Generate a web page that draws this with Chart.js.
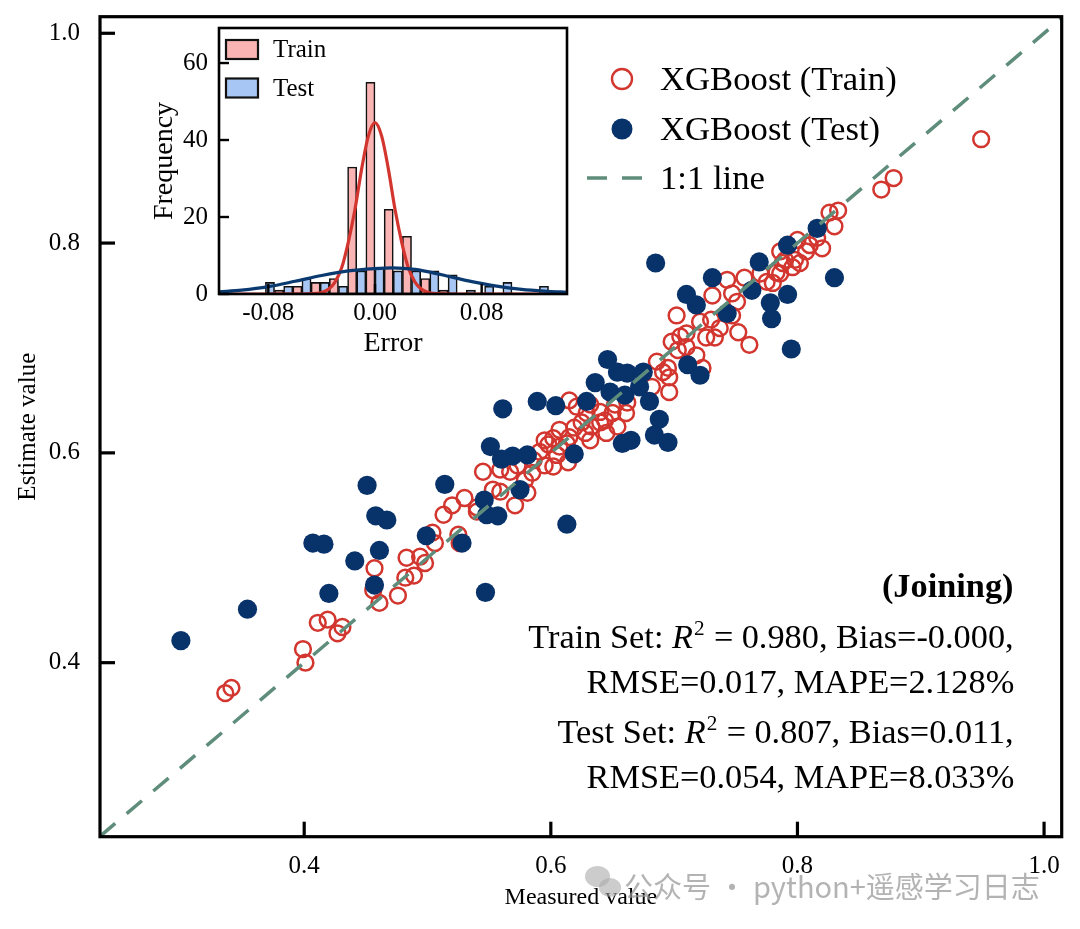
<!DOCTYPE html>
<html>
<head>
<meta charset="utf-8">
<script src="https://cdn.jsdelivr.net/npm/chart.js@4.4.1/dist/chart.umd.min.js"></script>
<style>
html,body{margin:0;padding:0;background:#fff;}
#wrap{position:relative;width:1080px;height:929px;overflow:hidden;background:#fff;}
#main{position:absolute;left:0;top:0;}
#inset{position:absolute;left:130px;top:20px;}
.txt{position:absolute;font-family:'Liberation Serif','Times New Roman',serif;color:#000;white-space:nowrap;}
.leg{font-size:34px;line-height:40px;transform:scaleX(1.02);transform-origin:left center;}
.ileg{font-size:25px;line-height:30px;}
.stat{right:66px;font-size:33px;line-height:40px;text-align:right;transform:scaleX(1.04);transform-origin:right center;}
.stat sup{font-size:0.62em;line-height:0;vertical-align:0.62em;margin-left:1px;}
.stat .eq{margin:0 8px 0 9px;}
.wm{position:absolute;left:624px;top:865px;font-family:'Noto Sans CJK SC','Noto Sans',sans-serif;font-size:29px;line-height:40px;color:rgba(150,150,150,0.72);white-space:nowrap;}
.bub{position:absolute;border-radius:50%;background:rgba(170,170,170,0.6);}
</style>
</head>
<body>
<div id="wrap">
  <canvas id="main" width="1080" height="929"></canvas>
  <canvas id="inset" width="460" height="350"></canvas>

  <div class="txt leg" style="left:660px;top:59px;">XGBoost (Train)</div>
  <div class="txt leg" style="left:660px;top:109px;">XGBoost (Test)</div>
  <div class="txt leg" style="left:660px;top:158px;">1:1 line</div>

  <div class="txt ileg" style="left:273px;top:34px;">Train</div>
  <div class="txt ileg" style="left:273px;top:73px;">Test</div>

  <div class="txt stat" style="top:566px;font-weight:bold;">(Joining)</div>
  <div class="txt stat" style="top:617px;">Train Set: <i>R</i><sup>2</sup><span class="eq">=</span>0.980, Bias=-0.000,</div>
  <div class="txt stat" style="top:662px;">RMSE=0.017, MAPE=2.128%</div>
  <div class="txt stat" style="top:712px;">Test Set: <i>R</i><sup>2</sup><span class="eq">=</span>0.807, Bias=0.011,</div>
  <div class="txt stat" style="top:757px;">RMSE=0.054, MAPE=8.033%</div>

  <div class="bub" style="left:585px;top:866px;width:25px;height:21px;"></div>
  <div class="bub" style="left:599px;top:878px;width:22px;height:19px;"></div>
  <div class="wm">公众号 · python+遥感学习日志</div>
</div>
<script>
// ---------------- main scatter data ----------------
const xTicks = [0.4, 0.6, 0.8, 1.0];
const yTicks = [0.4, 0.6, 0.8, 1.0];
const xRange = [0.2344, 1.0143];
const yRange = [0.2341, 1.0158];
const lineEnds = [0.2344, 1.0143];

const trainMeasured = [
0.336,0.341,0.399,0.401,0.411,0.419,0.431,0.427,0.457,0.456,0.461,0.476,0.483,0.482,0.489,0.494,0.498,
0.504,0.506,0.513,0.520,0.530,0.540,0.525,0.526,0.545,0.553,0.559,0.571,0.581,0.559,0.567,0.573,0.585,0.579,0.540,
0.595,0.602,0.605,0.598,0.607,0.602,0.591,0.614,0.615,0.621,0.625,0.619,0.629,0.633,0.628,0.640,0.645,0.650,0.640,
0.654,0.615,0.613,0.662,0.652,0.661,0.632,0.644,0.607,0.595,0.632,0.586,
0.682,0.686,0.691,0.695,0.696,0.696,0.702,0.705,0.698,0.710,0.703,0.718,0.723,0.710,0.721,0.730,0.737,0.733,0.726,
0.752,0.761,0.731,0.747,0.751,0.747,0.743,0.757,0.770,0.775,0.780,0.786,0.790,
0.949,0.878,0.868,0.833,0.826,0.830,0.820,0.810,0.800,0.798,0.802,0.786,0.783,0.816,0.807,0.796,0.788
];
const trainEstimate = [
0.371,0.376,0.413,0.400,0.438,0.441,0.434,0.428,0.490,0.469,0.457,0.464,0.500,0.481,0.483,0.501,0.495,
0.524,0.514,0.541,0.550,0.557,0.548,0.522,0.514,0.582,0.565,0.563,0.550,0.562,0.584,0.582,0.588,0.581,0.574,0.544,
0.588,0.587,0.598,0.608,0.606,0.614,0.601,0.591,0.650,0.644,0.629,0.624,0.638,0.625,0.619,0.639,0.619,0.638,0.629,
0.625,0.615,0.609,0.648,0.646,0.638,0.646,0.631,0.622,0.612,0.612,0.593,
0.663,0.687,0.677,0.681,0.672,0.658,0.731,0.711,0.706,0.701,0.698,0.693,0.681,0.714,0.725,0.727,0.719,0.710,0.710,
0.715,0.703,0.750,0.752,0.744,0.731,0.765,0.767,0.771,0.763,0.762,0.771,0.784,
0.899,0.862,0.851,0.831,0.829,0.816,0.795,0.798,0.803,0.784,0.781,0.792,0.772,0.805,0.792,0.777,0.781
];

const testMeasured = [
0.300,0.354,0.420,0.407,0.416,0.441,0.451,0.458,0.467,0.461,0.457,0.499,0.514,0.528,0.546,0.548,0.557,
0.551,0.560,0.569,0.581,0.561,0.575,0.589,0.604,0.613,0.619,0.629,0.636,0.648,0.660,0.672,0.646,0.654,
0.662,0.675,0.680,0.688,0.684,0.695,0.658,0.665,0.685,0.711,0.721,0.710,0.718,0.731,0.743,0.763,0.769,
0.778,0.779,0.792,0.792,0.816,0.830,0.795,0.547
];
const testEstimate = [
0.421,0.451,0.466,0.514,0.513,0.497,0.569,0.540,0.536,0.507,0.474,0.521,0.570,0.514,0.555,0.541,0.540,
0.606,0.594,0.597,0.598,0.642,0.565,0.649,0.645,0.532,0.599,0.649,0.667,0.658,0.655,0.663,0.689,0.677,
0.676,0.677,0.649,0.632,0.617,0.610,0.609,0.612,0.781,0.684,0.674,0.751,0.741,0.767,0.733,0.755,0.782,
0.743,0.728,0.751,0.798,0.814,0.767,0.699,0.467
];

// ---------------- inset histogram data ----------------
const errTicks = [-0.08, 0.00, 0.08];
const freqTicks = [0, 20, 40, 60];
const errRange = [-0.117, 0.144];
const freqRange = [0, 69.1];
const binCenters = [-0.0822,-0.0685,-0.0548,-0.0411,-0.0274,-0.0137,0,0.0137,0.0274,0.0411,0.0548,0.0685,0.0822,0.0959,0.1096,0.1233];
const trainCounts = [0,1,2,3,4,33,55,22,15,4,1,0,0,0,0,0];
const testCounts  = [3,2,4,3,2,6,7,6,6,6,5,1,2,3,0,2];
const trainKdeX = [-0.117,-0.06,-0.05,-0.04,-0.035,-0.03,-0.025,-0.02,-0.015,-0.01,-0.005,0,0.005,0.01,0.015,0.02,0.025,0.03,0.035,0.04,0.05,0.06,0.144];
const trainKdeY = [0,0,0.05,0.4,1.2,3.1,6.8,13.5,22,32.5,41,44.5,41,32.5,22,13.5,6.8,3.1,1.2,0.4,0.05,0,0];
const testKdeX = [-0.117,-0.10,-0.08,-0.06,-0.04,-0.02,0,0.013,0.03,0.05,0.07,0.09,0.11,0.13,0.144];
const testKdeY = [0.55,1.0,1.9,3.3,4.8,6.0,6.6,6.8,6.4,5.0,3.4,2.1,1.2,0.7,0.45];

// ---------------- styles ----------------
const RED = '#d2362f';
const NAVY = '#08326a';
const GREEN = '#5f8d7b';
const SERIF = "'Liberation Serif','Times New Roman',serif";
Chart.defaults.font.family = SERIF;
Chart.defaults.color = '#000';

function zeroPad(s) { s.paddingTop = 0; s.paddingBottom = 0; s.paddingLeft = 0; s.paddingRight = 0; }

function frameTicks(id, frameW, tickW, tickLen) {
  return {
    id: id,
    afterDraw(chart) {
      const {ctx, chartArea: a, scales} = chart;
      ctx.save();
      ctx.strokeStyle = '#000';
      ctx.lineWidth = tickW;
      ctx.lineCap = 'butt';
      scales.x.ticks.forEach(t => {
        const p = scales.x.getPixelForValue(t.value);
        ctx.beginPath(); ctx.moveTo(p, a.bottom); ctx.lineTo(p, a.bottom - tickLen); ctx.stroke();
      });
      scales.y.ticks.forEach(t => {
        const p = scales.y.getPixelForValue(t.value);
        ctx.beginPath(); ctx.moveTo(a.left, p); ctx.lineTo(a.left + tickLen, p); ctx.stroke();
      });
      ctx.lineWidth = frameW;
      ctx.strokeRect(a.left, a.top, a.right - a.left, a.bottom - a.top);
      ctx.restore();
    }
  };
}

const mainLegend = {
  id: 'mainLegend',
  afterDraw(chart) {
    const ctx = chart.ctx;
    ctx.save();
    ctx.strokeStyle = RED; ctx.lineWidth = 2.4;
    ctx.beginPath(); ctx.arc(622, 79, 10, 0, Math.PI * 2); ctx.stroke();
    ctx.fillStyle = NAVY;
    ctx.beginPath(); ctx.arc(622, 129, 10.5, 0, Math.PI * 2); ctx.fill();
    ctx.strokeStyle = GREEN; ctx.lineWidth = 3.5; ctx.setLineDash([20, 15]);
    ctx.beginPath(); ctx.moveTo(587, 178); ctx.lineTo(643, 178); ctx.stroke();
    ctx.restore();
  }
};

const insetLegend = {
  id: 'insetLegend',
  afterDraw(chart) {
    const ctx = chart.ctx, a = chart.chartArea;
    ctx.save();
    ctx.lineWidth = 2.2; ctx.strokeStyle = '#111';
    ctx.fillStyle = '#f9b4b3';
    ctx.fillRect(a.left + 7, a.top + 12, 32, 19); ctx.strokeRect(a.left + 7, a.top + 12, 32, 19);
    ctx.fillStyle = '#a7c6f4';
    ctx.fillRect(a.left + 7, a.top + 50.5, 32, 19); ctx.strokeRect(a.left + 7, a.top + 50.5, 32, 19);
    ctx.restore();
  }
};

new Chart(document.getElementById('main'), {
  type: 'scatter',
  data: {
    datasets: [
      { type: 'line', label: '1:1 line', data: lineEnds.map(v => ({x: v, y: v})),
        borderColor: GREEN, borderWidth: 3.5, borderDash: [20, 15], pointRadius: 0, fill: false, order: 0 },
      { type: 'scatter', label: 'XGBoost (Test)', data: testMeasured.map((x, i) => ({x: x, y: testEstimate[i]})),
        pointRadius: 9.6, backgroundColor: NAVY, pointBackgroundColor: NAVY, borderColor: NAVY, pointBorderColor: NAVY, pointBorderWidth: 0, order: 1 },
      { type: 'scatter', label: 'XGBoost (Train)', data: trainMeasured.map((x, i) => ({x: x, y: trainEstimate[i]})),
        pointRadius: 7.9, backgroundColor: 'rgba(0,0,0,0)', pointBackgroundColor: 'rgba(0,0,0,0)', borderColor: RED, pointBorderColor: RED, pointBorderWidth: 2.5, order: 2 }
    ]
  },
  options: {
    responsive: false, animation: false, events: [],
    layout: { padding: { top: 16.7, right: 18.3, left: 0, bottom: 0 } },
    plugins: { legend: { display: false }, tooltip: { enabled: false } },
    scales: {
      x: {
        type: 'linear', min: xRange[0], max: xRange[1],
        grid: { display: false, drawTicks: false }, border: { display: false },
        afterBuildTicks: s => { s.ticks = xTicks.map(v => ({value: v})); },
        afterFit: s => { s.height = 92.3; zeroPad(s); },
        ticks: { padding: 15, font: { size: 25 }, color: '#000', maxRotation: 0, autoSkip: false, callback: v => Number(v).toFixed(1) },
        title: { display: true, text: 'Measured value', font: { size: 24 }, color: '#000', padding: { top: 0, bottom: 16.6 } }
      },
      y: {
        type: 'linear', min: yRange[0], max: yRange[1],
        grid: { display: false, drawTicks: false }, border: { display: false },
        afterBuildTicks: s => { s.ticks = yTicks.map(v => ({value: v})); },
        afterFit: s => { s.width = 100; zeroPad(s); },
        ticks: { padding: 20, font: { size: 25 }, color: '#000', autoSkip: false, callback: v => Number(v).toFixed(1) },
        title: { display: true, text: 'Estimate value', font: { size: 25 }, color: '#000', padding: { top: 13, bottom: 0 } }
      }
    }
  },
  plugins: [frameTicks('mainFrame', 3.2, 3.2, 15), mainLegend]
});

new Chart(document.getElementById('inset'), {
  type: 'bar',
  data: {
    datasets: [
      { type: 'line', label: 'Test KDE', data: testKdeX.map((x, i) => ({x: x, y: testKdeY[i]})),
        borderColor: '#0b3a70', borderWidth: 3.2, pointRadius: 0, cubicInterpolationMode: 'monotone', fill: false, order: 0 },
      { type: 'line', label: 'Train KDE', data: trainKdeX.map((x, i) => ({x: x, y: trainKdeY[i]})),
        borderColor: '#d2362f', borderWidth: 3.2, pointRadius: 0, cubicInterpolationMode: 'monotone', fill: false, order: 1 },
      { type: 'bar', label: 'Train', data: binCenters.map((x, i) => ({x: x, y: trainCounts[i]})),
        backgroundColor: '#f9b4b3', borderColor: '#111', borderWidth: 1.6, borderSkipped: false,
        barPercentage: 1, categoryPercentage: 1, order: 3 },
      { type: 'bar', label: 'Test', data: binCenters.map((x, i) => ({x: x, y: testCounts[i]})),
        backgroundColor: '#a7c6f4', borderColor: '#111', borderWidth: 1.6, borderSkipped: false,
        barPercentage: 1, categoryPercentage: 1, order: 3 }
    ]
  },
  options: {
    responsive: false, animation: false, events: [],
    layout: { padding: { top: 8, right: 23, left: 0, bottom: 0 } },
    plugins: { legend: { display: false }, tooltip: { enabled: false } },
    scales: {
      x: {
        type: 'linear', min: errRange[0], max: errRange[1], offset: false,
        grid: { display: false, drawTicks: false }, border: { display: false },
        afterBuildTicks: s => { s.ticks = errTicks.map(v => ({value: v})); },
        afterFit: s => { s.height = 76; zeroPad(s); },
        ticks: { padding: 4.3, font: { size: 25 }, color: '#000', maxRotation: 0, autoSkip: false, callback: v => Number(v).toFixed(2) },
        title: { display: true, text: 'Error', font: { size: 28 }, color: '#000', padding: { top: 0, bottom: 9.9 } }
      },
      y: {
        type: 'linear', min: freqRange[0], max: freqRange[1],
        grid: { display: false, drawTicks: false }, border: { display: false },
        afterBuildTicks: s => { s.ticks = freqTicks.map(v => ({value: v})); },
        afterFit: s => { s.width = 89; zeroPad(s); },
        ticks: { padding: 11, font: { size: 25 }, color: '#000', autoSkip: false, callback: v => String(Math.round(v)) },
        title: { display: true, text: 'Frequency', font: { size: 28 }, color: '#000', padding: { top: 18, bottom: 0 } }
      }
    }
  },
  plugins: [frameTicks('insetFrame', 2.6, 2.4, 10), insetLegend]
});
</script>
</body>
</html>
